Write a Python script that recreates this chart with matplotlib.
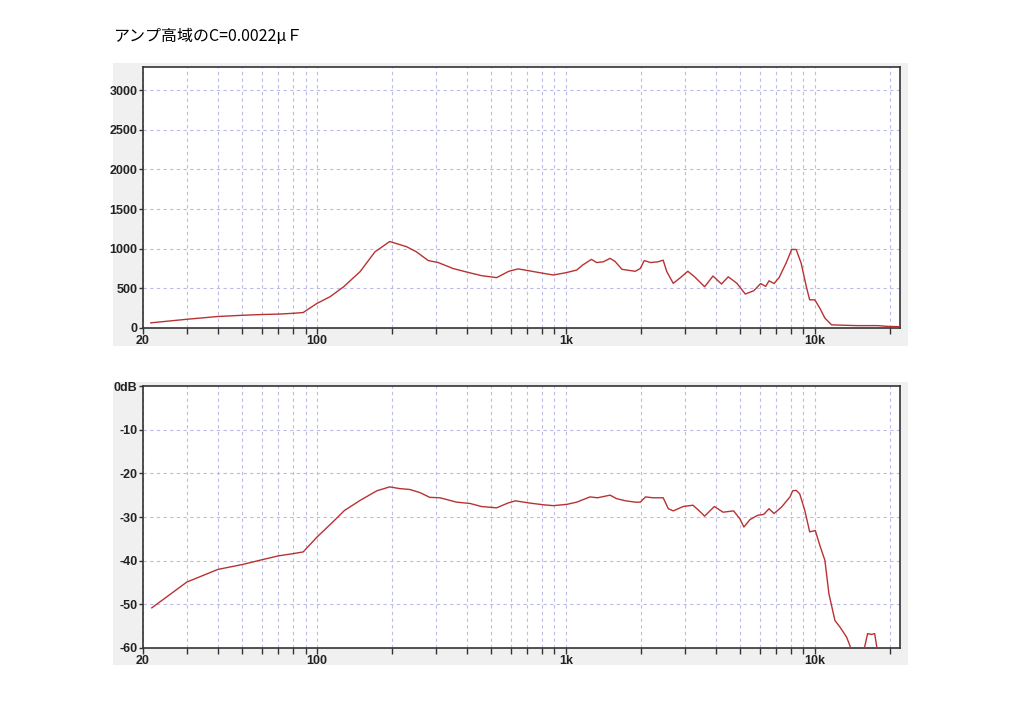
import matplotlib
matplotlib.use("Agg")
import matplotlib.pyplot as plt
from matplotlib.patches import Rectangle
from matplotlib.ticker import FixedLocator, FixedFormatter, NullFormatter

# --- データ ---
title = "アンプ高域のC=0.0022μＦ"

freq_top = [21.5, 30, 40, 50, 60, 70, 80, 88, 100, 113, 128, 149, 171, 196, 229, 251, 280,
            307, 352, 400, 458, 527, 590, 643, 715, 786, 890, 1000, 1105, 1170, 1267, 1330,
            1415, 1505, 1575, 1680, 1785, 1900, 1990, 2065, 2190, 2350, 2460, 2540, 2700,
            2860, 3090, 3290, 3610, 3900, 4220, 4490, 4860, 5260, 5690, 6060, 6350, 6550,
            6860, 7190, 7660, 8080, 8420, 8820, 9250, 9540, 10000, 10480, 10980, 11680,
            12900, 14900, 17900, 19700, 21800]
amp_top = [65, 110, 145, 160, 170, 175, 185, 195, 310, 395, 520, 710, 960, 1090, 1025, 960, 850,
           825, 750, 705, 660, 635, 715, 745, 720, 697, 668, 697, 730, 795, 865, 825,
           835, 878, 840, 740, 727, 715, 750, 850, 825, 835, 855, 715, 563,
           625, 715, 645, 520, 655, 555, 645, 565, 428, 470, 560, 525, 595,
           560, 635, 815, 990, 990, 815, 520, 355, 355, 250, 125, 40,
           35, 30, 30, 20, 17]

freq_db = [21.7, 30, 40, 50, 60, 70, 80, 88, 100, 116, 129, 149, 174, 196, 215, 236, 259, 284,
           312, 364, 412, 458, 527, 585, 627, 715, 811, 890, 1010, 1105, 1250, 1340, 1505,
           1600, 1740, 1900, 1990, 2090, 2240, 2460, 2580, 2700, 2960, 3240, 3420, 3610,
           3950, 4280, 4720, 5000, 5190, 5490, 5900, 6240, 6550, 6860, 7360, 7950, 8150,
           8420, 8700, 9120, 9540, 10050, 10480, 10980, 11400, 12050, 12620, 13420, 14000,
           14800, 15400, 15800, 16300, 16900, 17400, 17800, 18300]
level_db = [-50.8, -44.9, -42.0, -40.9, -39.8, -38.9, -38.4, -38.0, -34.6, -31.1, -28.5, -26.2,
            -24.0, -23.1, -23.5, -23.7, -24.4, -25.5, -25.6, -26.6, -26.9, -27.6, -27.9, -26.8,
            -26.3, -26.8, -27.2, -27.4, -27.1, -26.6, -25.4, -25.6, -25.0, -25.8, -26.3, -26.6,
            -26.6, -25.4, -25.6, -25.6, -28.1, -28.6, -27.6, -27.3, -28.5, -29.8, -27.6, -28.9,
            -28.6, -30.4, -32.3, -30.6, -29.6, -29.4, -28.1, -29.2, -27.7, -25.4, -24.0, -23.9,
            -24.7, -28.5, -33.4, -33.1, -36.5, -39.9, -47.6, -53.7, -55.2, -57.5, -60.2,
            -63.0, -62.0, -60.2, -56.7, -56.9, -56.7, -60.2, -63.0]

x_labels = {20: "20", 100: "100", 1000: "1k", 10000: "10k"}
top_yticks = [0, 500, 1000, 1500, 2000, 2500, 3000]
db_yticks = [-60, -50, -40, -30, -20, -10, 0]
db_ylabels = ["-60", "-50", "-40", "-30", "-20", "-10", "0dB"]

LINE_COLOR = "#b83232"
GRID_COLOR = "#bcbce8"
tick_font = ["Liberation Sans", "DejaVu Sans"]

fig = plt.figure(figsize=(10.24, 7.09), dpi=100)
fig.patch.set_facecolor("white")

# 灰色の背景パネル
for (x0, y0, w, h) in [(113, 63, 795, 283), (113, 382, 795, 283)]:
    fig.patches.append(Rectangle((x0 / 1024, 1 - (y0 + h) / 709), w / 1024, h / 709,
                                 transform=fig.transFigure, facecolor="#f0f0f0",
                                 edgecolor="none", zorder=-5))

fig.text(113 / 1024, 1 - 37 / 709, title, fontsize=11.5, va="center", ha="left",
         family=["Noto Sans CJK JP", "DejaVu Sans"])

ax1 = fig.add_axes([143 / 1024, 1 - 328 / 709, 757 / 1024, 261 / 709])
ax2 = fig.add_axes([143 / 1024, 1 - 648 / 709, 757 / 1024, 262 / 709])
ax1.set_zorder(2)
ax2.set_zorder(2)

grid_x = [m * 10 ** e for e in range(1, 5) for m in range(1, 10)]
grid_x = [g for g in grid_x if 20 <= g <= 22000]

def style_axes(ax):
    ax.set_xscale("log")
    ax.set_xlim(20, 22000)
    ax.set_facecolor("white")
    for s in ax.spines.values():
        s.set_color("#333333")
        s.set_linewidth(1.2)
    ax.xaxis.set_major_locator(FixedLocator(list(x_labels.keys())))
    ax.xaxis.set_major_formatter(FixedFormatter(list(x_labels.values())))
    ax.xaxis.set_minor_locator(FixedLocator([g for g in grid_x if g not in x_labels]))
    ax.xaxis.set_minor_formatter(NullFormatter())
    ax.tick_params(axis="x", which="both", direction="out", length=4, width=1,
                   color="#333333", pad=1, labelsize=9)
    ax.tick_params(axis="y", direction="out", length=3, width=1, color="#333333",
                   pad=1, labelsize=9)
    for lab in ax.get_xticklabels() + ax.get_yticklabels():
        lab.set_family(tick_font)
        lab.set_fontweight("bold")
        lab.set_color("#222222")
    for g in grid_x:
        ax.axvline(g, color=GRID_COLOR, lw=0.8, ls=(0, (3, 3)), zorder=1)

ax1.plot(freq_top, amp_top, color=LINE_COLOR, lw=1.0, zorder=3)
ax1.set_ylim(0, 3290)
ax1.set_yticks(top_yticks)
ax1.set_yticklabels([str(v) for v in top_yticks])
for v in top_yticks[1:]:
    ax1.axhline(v, color=GRID_COLOR, lw=0.8, ls=(0, (3, 3)), zorder=1)
style_axes(ax1)

ax2.plot(freq_db, level_db, color=LINE_COLOR, lw=1.0, zorder=3)
ax2.set_ylim(-60, 0)
ax2.set_yticks(db_yticks)
ax2.set_yticklabels(db_ylabels)
for v in db_yticks[1:-1]:
    ax2.axhline(v, color=GRID_COLOR, lw=0.8, ls=(0, (3, 3)), zorder=1)
style_axes(ax2)

fig.savefig("out.png", dpi=100)
